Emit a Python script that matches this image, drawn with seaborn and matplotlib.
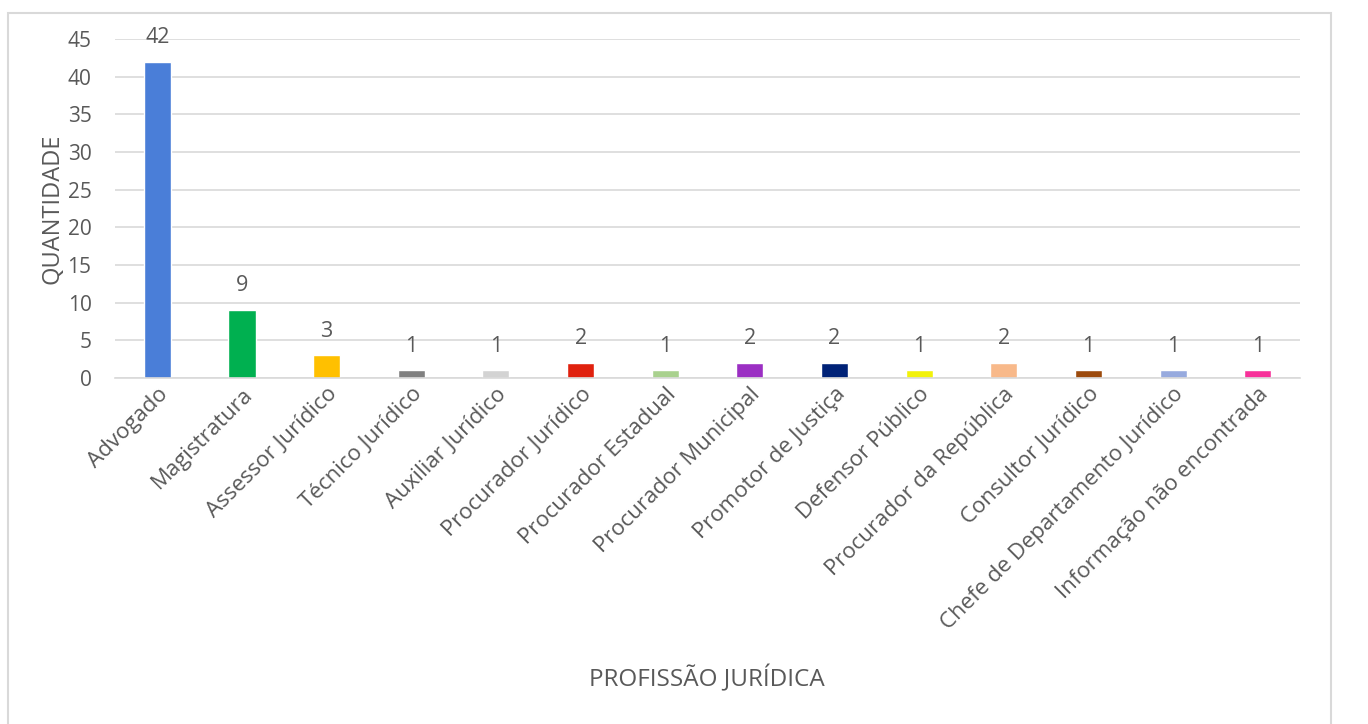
import matplotlib
matplotlib.use("Agg")
import matplotlib.pyplot as plt
import seaborn as sns
import pandas as pd
from matplotlib.patches import Rectangle

categorias = [
    "Advogado", "Magistratura", "Assessor Jurídico", "Técnico Jurídico",
    "Auxiliar Jurídico", "Procurador Jurídico", "Procurador Estadual",
    "Procurador Municipal", "Promotor de Justiça", "Defensor Público",
    "Procurador da República", "Consultor Jurídico",
    "Chefe de Departamento Jurídico", "Informação não encontrada",
]
quantidades = [42, 9, 3, 1, 1, 2, 1, 2, 2, 1, 2, 1, 1, 1]
cores = [
    "#4A7ED8", "#00B050", "#FFC000", "#808080", "#D3D3D3", "#E0210E",
    "#A9D18E", "#9B2FC3", "#002277", "#F2F20A", "#F8B98A", "#9C4A0C",
    "#97AADE", "#F7319A",
]

df = pd.DataFrame({"categoria": categorias, "quantidade": quantidades})

sns.set_theme(style="white")
plt.rcParams["font.family"] = ["Open Sans", "DejaVu Sans"]
texto = "#595959"
grade = "#D9D9D9"

fig = plt.figure(figsize=(13.68, 7.24), dpi=100)
ax = fig.add_axes([0.0841, 0.4779, 0.8662, 0.4682])

sns.barplot(data=df, x="categoria", y="quantidade", hue="categoria",
            palette=cores, width=0.32, legend=False, ax=ax, saturation=1)

ax.set_ylim(0, 45)
ax.set_xlim(-0.5, len(categorias) - 0.5)
ax.set_yticks(range(0, 46, 5))
ax.yaxis.grid(True, color=grade, linewidth=1.2)
ax.set_axisbelow(True)
for s in ["top", "right", "left"]:
    ax.spines[s].set_visible(False)
ax.spines["bottom"].set_color(grade)
ax.spines["bottom"].set_linewidth(1.2)
ax.tick_params(axis="both", length=0, colors=texto)
ax.tick_params(axis="y", pad=17, labelsize=15)
ax.tick_params(axis="x", pad=4, labelsize=16)
plt.setp(ax.get_xticklabels(), rotation=45, ha="right", rotation_mode="anchor")

for cont in ax.containers:
    ax.bar_label(cont, padding=10, color=texto, fontsize=15.5)

ax.set_ylabel("QUANTIDADE", color=texto, fontsize=17, labelpad=2)
ax.set_xlabel("")
fig.text(0.5165, 0.063, "PROFISSÃO JURÍDICA", color=texto, fontsize=17.5,
         ha="center", va="center")

# chart frame
fig.patches.append(Rectangle((8 / 1368, -0.05), (1331 - 8) / 1368, 1.05 - 13 / 724,
                             transform=fig.transFigure, fill=False,
                             edgecolor="#D9D9D9", linewidth=1.5))

fig.savefig("out.png", dpi=100, facecolor="white")
